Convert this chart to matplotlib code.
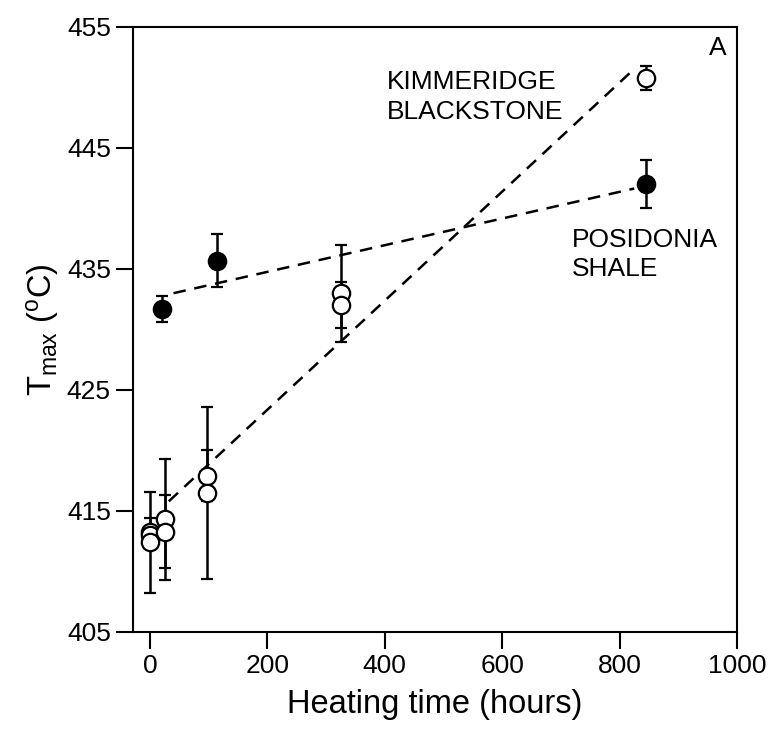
import matplotlib
matplotlib.use('Agg')
import matplotlib.pyplot as plt

plt.rcParams['font.family'] = ['Liberation Sans', 'DejaVu Sans']
plt.rcParams['mathtext.fontset'] = 'custom'
plt.rcParams['mathtext.rm'] = 'Liberation Sans'
plt.rcParams['mathtext.it'] = 'Liberation Sans'

# Kimmeridge Blackstone (open circles)
kim_time = [0, 0, 0, 25, 25, 97, 97, 325, 325, 845]
kim_tmax = [413.3, 413.0, 412.4, 414.3, 413.3, 417.9, 416.5, 433.0, 432.0, 450.8]
kim_err = [1.1, 0.4, 4.2, 5.0, 3.0, 2.1, 7.1, 4.0, 1.9, 1.0]

# Posidonia Shale (filled circles)
pos_time = [20, 114, 845]
pos_tmax = [431.7, 435.7, 442.0]
pos_err = [1.1, 2.2, 2.0]

# dashed trend lines (end points)
kim_line_x = [32, 822]
kim_line_y = [415.8, 451.4]
pos_line_x = [40, 825]
pos_line_y = [433.0, 441.65]

xticks = [0, 200, 400, 600, 800, 1000]
yticks = [405, 415, 425, 435, 445, 455]

fig = plt.figure(figsize=(7.76, 7.41), dpi=100)
ax = fig.add_axes([0.1714, 0.1471, 0.7783, 0.8165])

ax.plot(kim_line_x, kim_line_y, color='black', lw=1.8, dashes=(5, 3.5), zorder=1)
ax.plot(pos_line_x, pos_line_y, color='black', lw=1.8, dashes=(5, 3.5), zorder=1)

ax.errorbar(kim_time, kim_tmax, yerr=kim_err, fmt='o', ms=12.5,
            mfc='white', mec='black', mew=1.6, ecolor='black',
            elinewidth=1.8, capsize=4.5, capthick=1.8, zorder=3)
ax.errorbar(pos_time, pos_tmax, yerr=pos_err, fmt='o', ms=12.5,
            mfc='black', mec='black', mew=1.6, ecolor='black',
            elinewidth=1.8, capsize=4.5, capthick=1.8, zorder=3)

ax.set_xlim(-29, 1000)
ax.set_ylim(405, 455)
ax.set_xticks(xticks)
ax.set_yticks(yticks)
ax.tick_params(direction='out', length=12, width=1.5, labelsize=19, pad=4)
for s in ax.spines.values():
    s.set_linewidth(1.5)

ax.set_xlabel('Heating time (hours)', fontsize=23.5, labelpad=8)
ax.set_ylabel(r'T$_{\mathrm{max}}$ ($^{\mathrm{o}}$C)', fontsize=23.5, labelpad=4)

ax.text(404, 449.2, 'KIMMERIDGE\nBLACKSTONE', fontsize=19, ha='left', va='center',
        linespacing=1.3)
ax.text(719, 436.2, 'POSIDONIA\nSHALE', fontsize=19, ha='left', va='center',
        linespacing=1.3)
ax.text(968, 453.3, 'A', fontsize=19, ha='center', va='center')

fig.savefig('out.png', dpi=100)
